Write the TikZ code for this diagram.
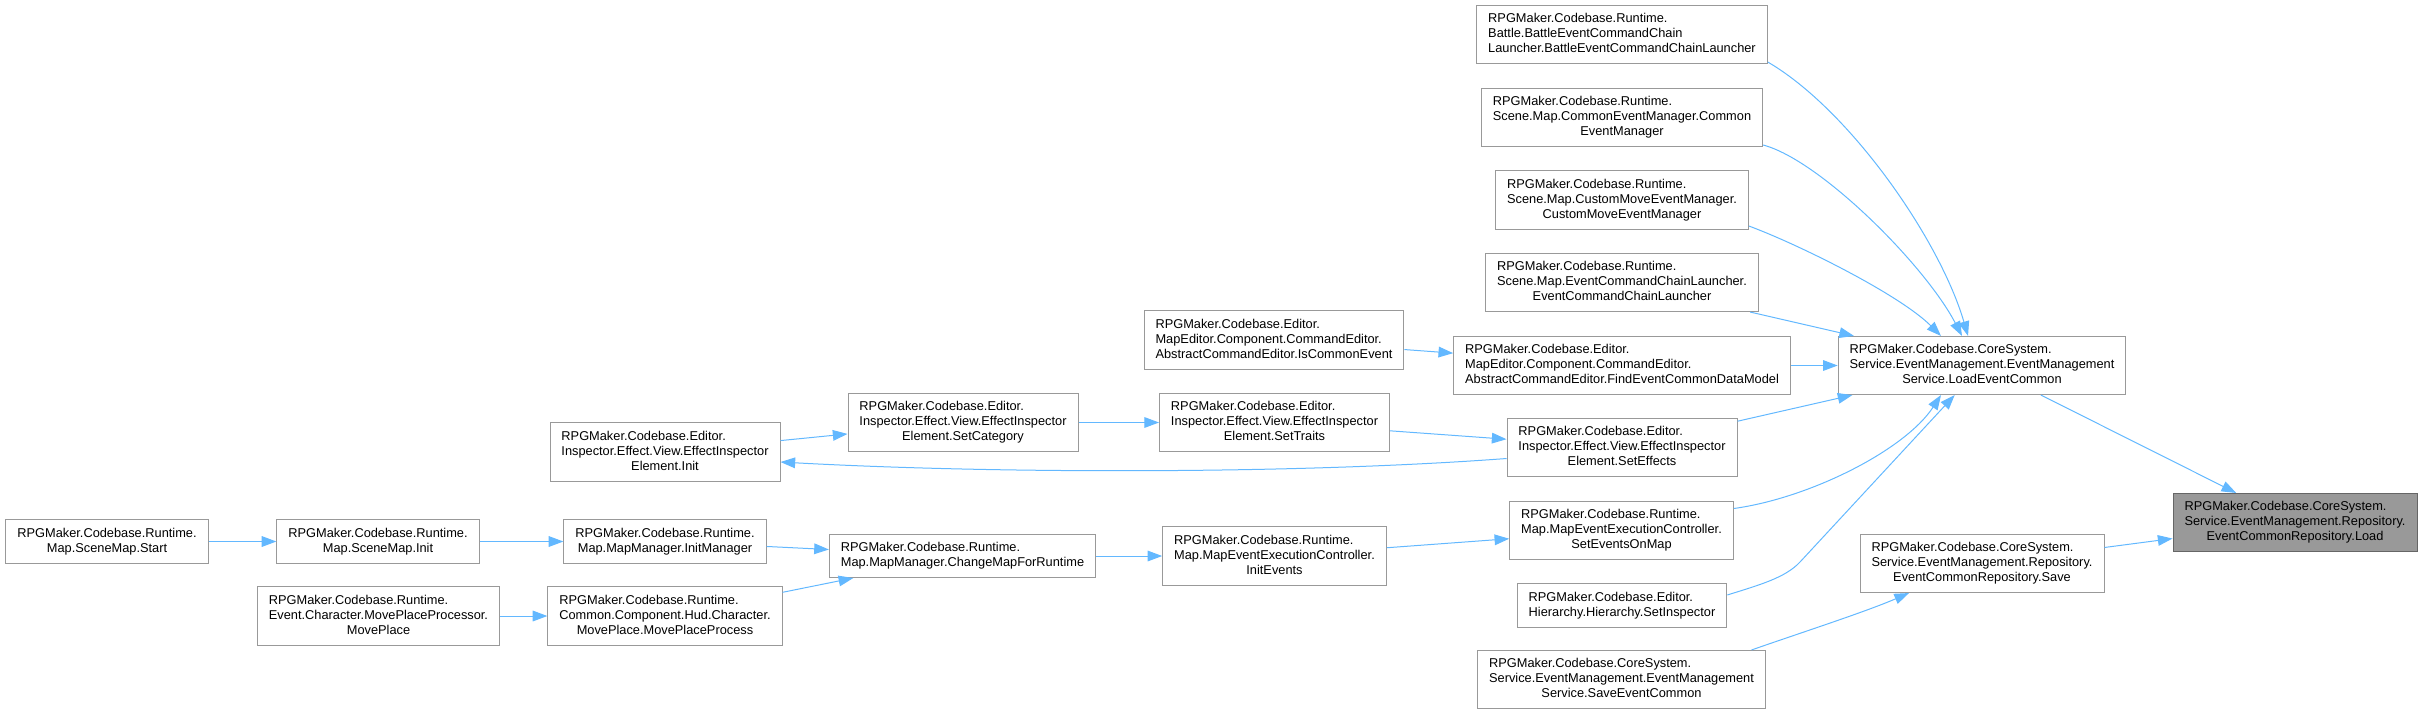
\documentclass[tikz,border=0pt]{standalone}
\usepackage{fontspec}
\setmainfont{Liberation Sans}
\usepackage{tikz}
\usetikzlibrary{arrows.meta}
\usepackage{xcolor}
\definecolor{edgeblue}{HTML}{63B8FF}
\definecolor{boxgray}{HTML}{999999}
\definecolor{hitgray}{HTML}{666666}
\newcommand{\fnlines}[2]{\begin{tabular}{@{}l@{}}#1\\\multicolumn{1}{@{}c@{}}{#2}\end{tabular}}

\begin{document}
\begin{tikzpicture}[
  x=0.75pt, y=-0.75pt,
  fn/.style={draw=boxgray, fill=white, line width=0.75pt, inner xsep=8.6pt,
    inner ysep=4.9pt, font=\fontsize{9.6}{11.25}\selectfont},
  hit/.style={fn, draw=hitgray, fill=boxgray},
  arrow/.style={-{Triangle[length=11pt, width=8pt]}, draw=edgeblue, line width=0.75pt}
]
\useasboundingbox (0,0) rectangle (2422,715);
\node[fn] (battle) at (1622,34.5) {\fnlines{RPGMaker.Codebase.Runtime.\\Battle.BattleEventCommandChain}{Launcher.BattleEventCommandChainLauncher}};
\node[fn] (commonmgr) at (1622,117.5) {\fnlines{RPGMaker.Codebase.Runtime.\\Scene.Map.CommonEventManager.Common}{EventManager}};
\node[fn] (custommove) at (1622,200) {\fnlines{RPGMaker.Codebase.Runtime.\\Scene.Map.CustomMoveEventManager.}{CustomMoveEventManager}};
\node[fn] (chainlauncher) at (1622,282.5) {\fnlines{RPGMaker.Codebase.Runtime.\\Scene.Map.EventCommandChainLauncher.}{EventCommandChainLauncher}};
\node[fn] (iscommon) at (1274,340) {\fnlines{RPGMaker.Codebase.Editor.\\MapEditor.Component.CommandEditor.}{AbstractCommandEditor.IsCommonEvent}};
\node[fn] (findevent) at (1622,365.5) {\fnlines{RPGMaker.Codebase.Editor.\\MapEditor.Component.CommandEditor.}{AbstractCommandEditor.FindEventCommonDataModel}};
\node[fn] (loadevent) at (1982,365.5) {\fnlines{RPGMaker.Codebase.CoreSystem.\\Service.EventManagement.EventManagement}{Service.LoadEventCommon}};
\node[fn] (setcategory) at (963,422.5) {\fnlines{RPGMaker.Codebase.Editor.\\Inspector.Effect.View.EffectInspector}{Element.SetCategory}};
\node[fn] (settraits) at (1274.5,422.5) {\fnlines{RPGMaker.Codebase.Editor.\\Inspector.Effect.View.EffectInspector}{Element.SetTraits}};
\node[fn] (init) at (665,452) {\fnlines{RPGMaker.Codebase.Editor.\\Inspector.Effect.View.EffectInspector}{Element.Init}};
\node[fn] (seteffects) at (1622,447.5) {\fnlines{RPGMaker.Codebase.Editor.\\Inspector.Effect.View.EffectInspector}{Element.SetEffects}};
\node[fn] (seteventsonmap) at (1621.5,530.5) {\fnlines{RPGMaker.Codebase.Runtime.\\Map.MapEventExecutionController.}{SetEventsOnMap}};
\node[fn] (start) at (107,541.5) {\fnlines{RPGMaker.Codebase.Runtime.}{Map.SceneMap.Start}};
\node[fn] (scenemapinit) at (378,541.5) {\fnlines{RPGMaker.Codebase.Runtime.}{Map.SceneMap.Init}};
\node[fn] (initmanager) at (665,541.5) {\fnlines{RPGMaker.Codebase.Runtime.}{Map.MapManager.InitManager}};
\node[fn] (changemap) at (962.5,556) {\fnlines{RPGMaker.Codebase.Runtime.}{Map.MapManager.ChangeMapForRuntime}};
\node[fn] (initevents) at (1274.5,556) {\fnlines{RPGMaker.Codebase.Runtime.\\Map.MapEventExecutionController.}{InitEvents}};
\node[fn] (setinspector) at (1622,605.5) {\fnlines{RPGMaker.Codebase.Editor.}{Hierarchy.Hierarchy.SetInspector}};
\node[fn] (moveplace) at (378.5,616) {\fnlines{RPGMaker.Codebase.Runtime.\\Event.Character.MovePlaceProcessor.}{MovePlace}};
\node[fn] (moveplaceproc) at (665,616) {\fnlines{RPGMaker.Codebase.Runtime.\\Common.Component.Hud.Character.}{MovePlace.MovePlaceProcess}};
\node[fn] (saveeventcommon) at (1621.5,679.5) {\fnlines{RPGMaker.Codebase.CoreSystem.\\Service.EventManagement.EventManagement}{Service.SaveEventCommon}};
\node[fn] (save) at (1982,563.5) {\fnlines{RPGMaker.Codebase.CoreSystem.\\Service.EventManagement.Repository.}{EventCommonRepository.Save}};
\node[hit] (load) at (2295,522.5) {\fnlines{RPGMaker.Codebase.CoreSystem.\\Service.EventManagement.Repository.}{EventCommonRepository.Load}};
\draw[arrow] (start) -- (scenemapinit);
\draw[arrow] (scenemapinit) -- (initmanager);
\draw[arrow] (moveplace) -- (moveplaceproc);
\draw[arrow] (initmanager) -- (changemap);
\draw[arrow] (moveplaceproc) -- (changemap);
\draw[arrow] (changemap) -- (initevents);
\draw[arrow] (initevents) -- (seteventsonmap);
\draw[arrow] (init) -- (setcategory);
\draw[arrow] (setcategory) -- (settraits);
\draw[arrow] (settraits) -- (seteffects);
\draw[arrow] ([shift={(0,11)}]seteffects.west) .. controls (1300,474) and (1000,474) .. ([shift={(0,10)}]init.east);
\draw[arrow] (iscommon) -- (findevent);
\draw[arrow] (findevent) -- (loadevent);
\draw[arrow] (chainlauncher) -- (loadevent);
\draw[arrow] (seteffects) -- (loadevent);
\draw[arrow] ([shift={(0,27.5)}]battle.east) .. controls (1850,110) and (1940,240) .. ([shift={(-14,0)}]loadevent.north);
\draw[arrow] ([shift={(0,27.5)}]commonmgr.east) .. controls (1820,160) and (1925,265) .. ([shift={(-20,0)}]loadevent.north);
\draw[arrow] ([shift={(0,26)}]custommove.east) .. controls (1800,245) and (1900,295) .. ([shift={(-41,0)}]loadevent.north);
\draw[arrow] ([shift={(0,-22)}]seteventsonmap.east) .. controls (1810,498) and (1905,450) .. ([shift={(-41,0)}]loadevent.south);
\draw[arrow] ([shift={(0,-10.5)}]setinspector.east) .. controls (1759,585) and (1785,578) .. (1800,562) -- (loadevent);
\draw[arrow] ([shift={(130,0)}]saveeventcommon.north) .. controls (1800,633) and (1865,612) .. ([shift={(-73,0)}]save.south);
\draw[arrow] (loadevent) -- (load);
\draw[arrow] (save) -- (load);
\end{tikzpicture}
\end{document}
